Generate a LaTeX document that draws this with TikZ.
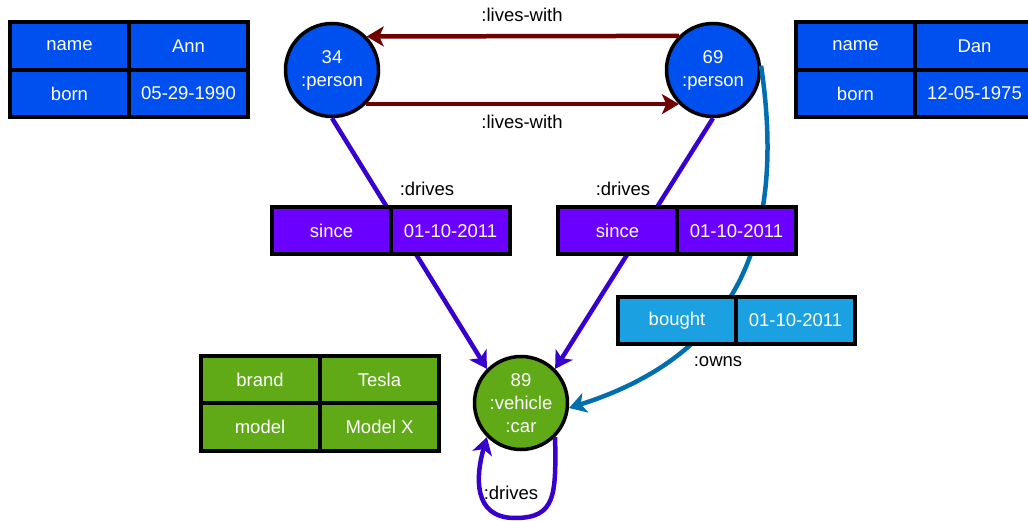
\documentclass[tikz,border=0pt]{standalone}
\usepackage{fontspec}
\setmainfont{Liberation Sans}
\usetikzlibrary{arrows.meta}
\definecolor{cblue}{HTML}{0050EF}
\definecolor{cviolet}{HTML}{6A00FF}
\definecolor{ccyan}{HTML}{1BA1E2}
\definecolor{cgreen}{HTML}{60A917}
\definecolor{cred}{HTML}{6F0000}
\definecolor{cindigo}{HTML}{3700CC}
\definecolor{cowns}{HTML}{006EAF}
\begin{document}
\begin{tikzpicture}[x=1pt,y=-1pt,
  every node/.style={font=\fontsize{18.5}{23}\selectfont, inner sep=0pt},
  cell/.style={draw=black, line width=4pt, minimum width=119pt, minimum height=47.5pt, text=white},
  ent/.style={circle, draw=black, line width=3.5pt, minimum size=93pt, text=white, align=center},
  tipped/.style={-{Stealth[length=17pt,width=20pt,inset=4.5pt]}},
  conn/.style={line width=4.5pt, tipped},
  lbl/.style={text=black},
]
\useasboundingbox (0,0) rectangle (1028,521);
\clip (0,0) rectangle (1028,521);

% entities
\node[ent, fill=cblue] (c34) at (332,70) {34\\:person};
\node[ent, fill=cblue] (c69) at (713,70) {69\\:person};
\node[ent, fill=cgreen] (car) at (521,403) {89\\:vehicle\\:car};

% connectors
\draw[conn, cred] (c69.135.7) -- (c34.44.3);
\draw[conn, cred] (c34.-45) -- (c69.-135);
\draw[conn, cindigo] (c34.south) -- (car.135);
\draw[conn, cindigo] (c69.south) -- (car.45);
\draw[conn, cowns] (c69.5) .. controls (790,260) and (720,360) .. (car.-6);
\draw[conn, cindigo] (car.-45) .. controls (556,495) and (556,518) .. (515,518)
  .. controls (472,518) and (476,475) .. (car.-135);

% labels
\node[lbl] (lw1) at (522,15) {:lives-with};
\node[lbl] (lw2) at (522,122) {:lives-with};
\node[lbl] (dr1) at (427,189) {:drives};
\node[lbl] (dr2) at (623,189) {:drives};
\node[lbl] (own) at (718,362) {:owns};
\node[lbl] (dr3) at (511,493) {:drives};

% Ann table
\node[cell, fill=cblue] (annK1) at (69.5,46) {name};
\node[cell, fill=cblue] (annV1) at (188.5,46) {Ann};
\node[cell, fill=cblue] (annK2) at (69.5,93.5) {born};
\node[cell, fill=cblue] (annV2) at (188.5,93.5) {05-29-1990};

% Dan table
\node[cell, fill=cblue] (danK1) at (855.5,46) {name};
\node[cell, fill=cblue] (danV1) at (974.5,46) {Dan};
\node[cell, fill=cblue] (danK2) at (855.5,93.5) {born};
\node[cell, fill=cblue] (danV2) at (974.5,93.5) {12-05-1975};

% drives properties
\node[cell, fill=cviolet, minimum height=47pt] (d1K) at (331.5,231) {since};
\node[cell, fill=cviolet, minimum height=47pt] (d1V) at (450.5,231) {01-10-2011};
\node[cell, fill=cviolet, minimum height=47pt] (d2K) at (617.5,231) {since};
\node[cell, fill=cviolet, minimum height=47pt] (d2V) at (736.5,231) {01-10-2011};

% owns properties
\node[cell, fill=ccyan, minimum height=47pt] (oK) at (677,320.5) {bought};
\node[cell, fill=ccyan, minimum height=47pt] (oV) at (795.5,320.5) {01-10-2011};

% car table
\node[cell, fill=cgreen] (cK1) at (260,379.5) {brand};
\node[cell, fill=cgreen] (cV1) at (379.5,379.5) {Tesla};
\node[cell, fill=cgreen] (cK2) at (260,427) {model};
\node[cell, fill=cgreen] (cV2) at (379.5,427) {Model X};
\end{tikzpicture}
\end{document}
